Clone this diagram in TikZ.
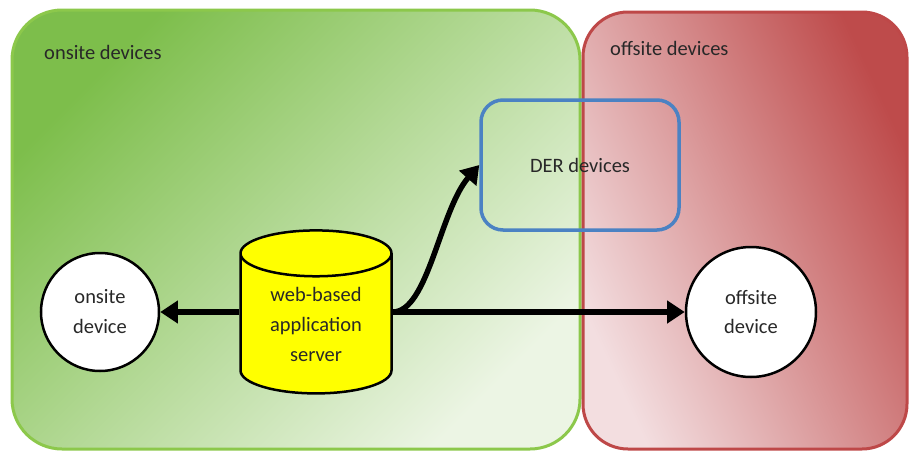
\documentclass[tikz,border=0pt]{standalone}
\usepackage{fontspec}
\setmainfont{Carlito}
\usetikzlibrary{shapes.geometric,arrows.meta}

\newlength{\du}
\setlength{\du}{0.5669pt}

\definecolor{greenline}{RGB}{140,200,75}
\definecolor{greendark}{RGB}{125,190,75}
\definecolor{greenlight}{RGB}{236,245,228}
\definecolor{redline}{RGB}{190,72,72}
\definecolor{reddark}{RGB}{190,75,75}
\definecolor{redlight}{RGB}{243,222,224}
\definecolor{derblue}{RGB}{75,130,195}
\definecolor{labelgray}{RGB}{40,40,40}
\definecolor{serveryellow}{RGB}{255,255,0}

\tikzset{
  area/.style={line width=3\du},
  device/.style={circle,draw=black,fill=white,line width=2.5\du,align=center,inner sep=0pt,
    text=labelgray,font=\fontsize{11.6}{17}\selectfont},
  link/.style={line width=3.1pt,-{Triangle[length=10pt,width=12.5pt]}},
}

\begin{document}
\begin{tikzpicture}
\pgftransformxscale{1.000000}
\pgftransformyscale{-1.000000}
\useasboundingbox (0\du,0\du) rectangle (912\du,452\du);
% onsite area
\draw[area,draw=greenline,rounded corners=50\du,top color=greendark,bottom color=greenlight,shading angle=45]
  (12\du,10\du) rectangle (580\du,449\du);
% offsite area
\draw[area,draw=redline,rounded corners=45\du,top color=reddark,bottom color=redlight,shading angle=-65]
  (583\du,12\du) rectangle (907\du,449\du);
% setfont left to latex
\node[anchor=west,text=labelgray,font=\fontsize{11.6}{14}\selectfont] (onsitelabel) at (38\du,52\du) {onsite devices};
\node[anchor=west,text=labelgray,font=\fontsize{11.6}{14}\selectfont] (offsitelabel) at (604\du,48\du) {offsite devices};
% DER devices
\node[draw=derblue,line width=3.5\du,rounded corners=22\du,minimum width=198\du,minimum height=130\du,
  text=labelgray,font=\fontsize{11.6}{14}\selectfont] (der) at (580\du,165\du) {DER devices};
% server
\node[cylinder,shape border rotate=90,draw=black,fill=serveryellow,line width=2.5\du,aspect=0.5,
  minimum width=151\du,minimum height=163\du,align=center,inner sep=0pt,
  text=labelgray,font=\fontsize{11.6}{17}\selectfont] (srv) at (316\du,324\du) {web-based\\application\\server};
% devices
\node[device,minimum size=118\du] (onsite) at (100\du,312\du) {onsite\\device};
\node[device,minimum size=130\du] (offsite) at (751\du,312\du) {offsite\\device};
% links
\draw[link] (srv.west |- onsite.east) -- (onsite.east);
\draw[link] (srv.east |- offsite.west) -- (offsite.west);
\draw[link] (srv.east |- offsite.west) .. controls (428\du,312\du) and (440\du,210\du) .. (der.west);
\end{tikzpicture}
\end{document}
